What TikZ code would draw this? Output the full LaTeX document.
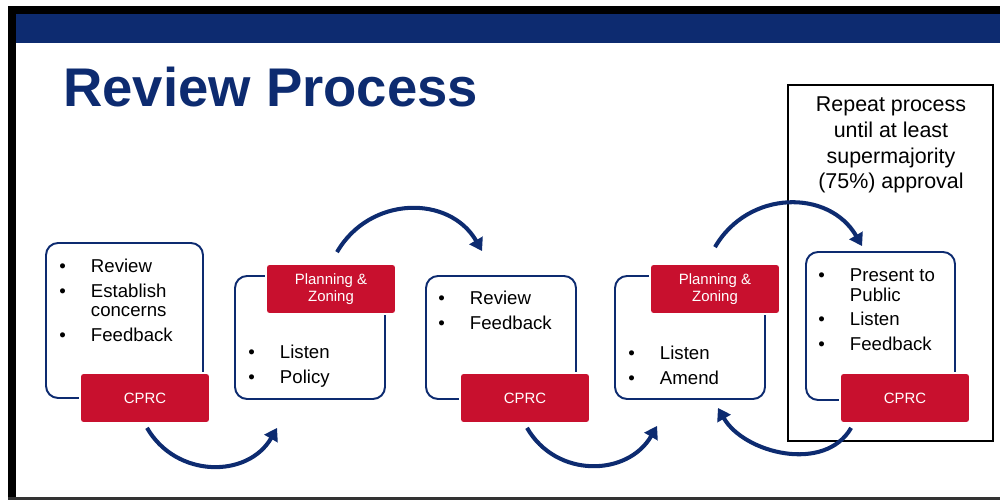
\documentclass[tikz,border=0pt]{standalone}
\usepackage{fontspec}
\setmainfont{Liberation Sans}
\usetikzlibrary{calc,arrows.meta}
\definecolor{navy}{RGB}{13,43,112}
\definecolor{cprcred}{RGB}{200,16,46}
\newcommand{\bl}{\makebox[18pt][l]{\textbullet}}
\newcommand{\ind}{\hspace*{18pt}}

\begin{document}
\begin{tikzpicture}[x=0.02cm,y=0.02cm,
  card/.style={draw=navy, line width=1.1pt, rounded corners=0.24cm, minimum width=3cm, minimum height=2.46cm},
  redbox/.style={fill=cprcred, draw=white, line width=1pt, rounded corners=2pt, minimum width=2.6cm, minimum height=1cm, text=white, font=\fontsize{8.5}{9.6}\selectfont, align=center},
  bullets/.style={anchor=base west, inner sep=0pt, font=\fontsize{10.6}{11}\selectfont},
  flow/.style={draw=navy, line width=2.3pt, -{Triangle[length=7pt,width=8.5pt]}, looseness=1.15}]

\useasboundingbox (0,0) rectangle (1000,502);
\fill[black] (8,2) rectangle (16,496);
\fill[black] (8,488) rectangle (1000,496);
\fill[navy] (16,459) rectangle (1000,488);
\fill[black!80] (8,2) rectangle (1000,5);

\node[anchor=base west, inner sep=0pt, text=navy, font=\fontsize{31}{36}\selectfont\bfseries] (title) at (63,395) {Review Process};

\draw[line width=1.4pt] (788,61) rectangle (993,417);
\node[anchor=base, inner sep=0pt, font=\fontsize{12.2}{14.6}\selectfont] (rep) at (891,390) {\begin{tabular}[t]{@{}c@{}}Repeat process\\until at least\\supermajority\\(75\%) approval\end{tabular}};

\node[card, minimum width=3.14cm, minimum height=3.1cm] (b1) at (124.5,181.5) {};
\node[card] (b2) at (310,164.5) {};
\node[card] (b3) at (501,164.5) {};
\node[card] (b4) at (690,164.5) {};
\node[card, minimum width=2.98cm, minimum height=2.96cm] (b5) at (880.5,176) {};

\node[redbox] (c1) at (145,104) {CPRC};
\node[redbox] (p2) at (331,213) {Planning \&\\Zoning};
\node[redbox] (c3) at (525,104) {CPRC};
\node[redbox] (p4) at (715,213) {Planning \&\\Zoning};
\node[redbox] (c5) at (905,104) {CPRC};

\node[bullets] (l1) at (59,229) {\begin{tabular}[t]{@{}l@{}}\bl Review\\[3pt]\bl Establish\\\ind concerns\\[3pt]\bl Feedback\end{tabular}};
\node[bullets] (l2) at (248,143) {\begin{tabular}[t]{@{}l@{}}\bl Listen\\[3pt]\bl Policy\end{tabular}};
\node[bullets] (l3) at (438,197) {\begin{tabular}[t]{@{}l@{}}\bl Review\\[3pt]\bl Feedback\end{tabular}};
\node[bullets] (l4) at (628,142) {\begin{tabular}[t]{@{}l@{}}\bl Listen\\[3pt]\bl Amend\end{tabular}};
\node[bullets] (l5) at (818,220) {\begin{tabular}[t]{@{}l@{}}\bl Present to\\\ind Public\\[3pt]\bl Listen\\[3pt]\bl Feedback\end{tabular}};

\draw[flow] ($(c1.south)+(2,-4)$) to[out=-60,in=-120] ($(b2.south west)+(43,-28)$);
\draw[flow] ($(p2.north)+(6,11)$) to[out=60,in=120] ($(b3.north west)+(57,24)$);
\draw[flow] ($(c3.south)+(2,-4)$) to[out=-60,in=-120] ($(b4.south west)+(43,-26)$);
\draw[flow] ($(p4.north)+(0,16)$) to[out=60,in=120] ($(b5.north west)+(57,5)$);
\draw[flow, looseness=1] ($(c5.south west)+(12,-4)$) to[out=-120,in=-60] ($(b4.south east)+(-48,-8)$);

\end{tikzpicture}
\end{document}
